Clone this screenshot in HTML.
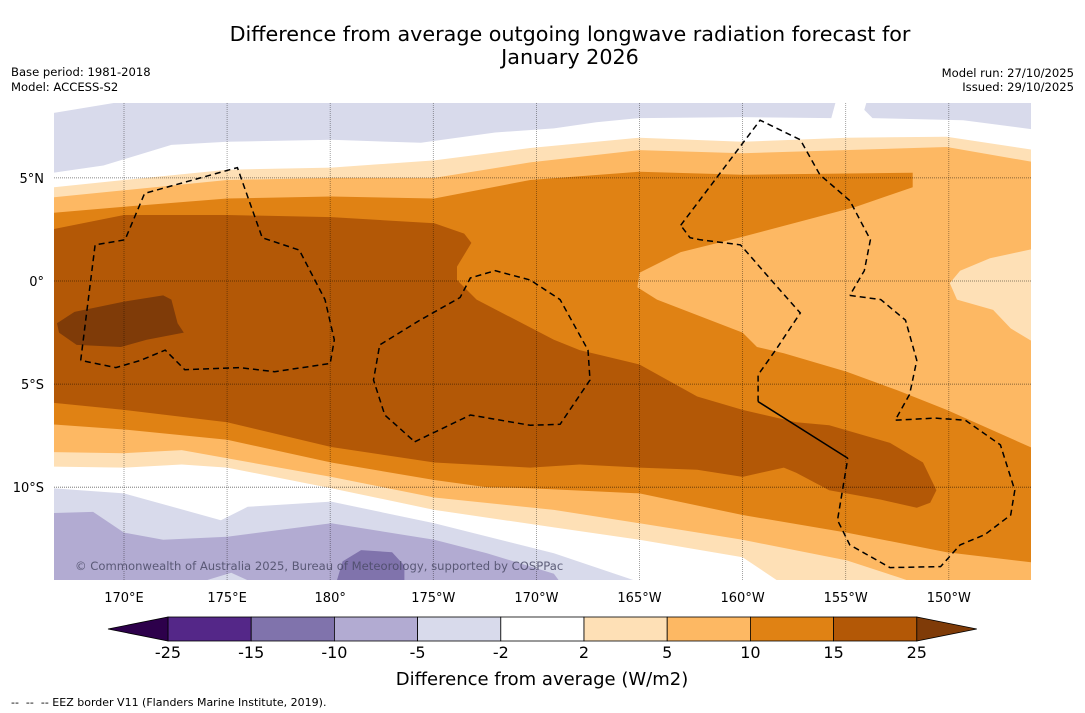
<!DOCTYPE html>
<html><head><meta charset="utf-8"><style>
html,body{margin:0;padding:0;background:#fff;width:1085px;height:713px;overflow:hidden}
svg{display:block;font-family:"DejaVu Sans","Liberation Sans",sans-serif}
</style></head><body>
<svg id="chart" width="1085" height="713" viewBox="0 0 1085 713" xmlns="http://www.w3.org/2000/svg">
<text x="570" y="41" text-anchor="middle" font-size="20.7" fill="#000">Difference from average outgoing longwave radiation forecast for</text>
<text x="570" y="64" text-anchor="middle" font-size="20.7" fill="#000">January 2026</text>
<text x="11" y="76" font-size="11.6">Base period: 1981-2018</text>
<text x="11" y="91" font-size="11.6">Model: ACCESS-S2</text>
<text x="1074" y="77" font-size="11.6" text-anchor="end">Model run: 27/10/2025</text>
<text x="1074" y="91" font-size="11.6" text-anchor="end">Issued: 29/10/2025</text>
<defs><clipPath id="mapclip"><rect x="54" y="103" width="977" height="477"/></clipPath></defs>
<g id="map" clip-path="url(#mapclip)"></g>
<g id="ticks"></g>
<g id="cbar"></g>
<text x="542" y="685" text-anchor="middle" font-size="18">Difference from average (W/m2)</text>
<text x="11" y="706" font-size="11">--&#160;&#160;--&#160;&#160;-- EEZ border V11 (Flanders Marine Institute, 2019).</text>
</svg>
<script>
const NS="http://www.w3.org/2000/svg";
// axis ticks
const lonTicks=[170,175,180,185,190,195,200,205,210];
const lonLabels=["170°E","175°E","180°","175°W","170°W","165°W","160°W","155°W","150°W"];
const latTicks=[5,0,-5,-10];
const latLabels=["5°N","0°","5°S","10°S"];
// colour scale
const levels=[-25,-15,-10,-5,-2,2,5,10,15,25];
const levelColors=["#542788","#8073ac","#b2abd2","#d8daeb","#ffffff","#fee0b6","#fdb863","#e08214","#b35806"];
const underColor="#2d004b", overColor="#7f3b08";
// filled contour regions [lon(E), lat]
const regTopLav=[[166.6,8.15],[169.5,8.63],[204.5,8.63],[204.3,7.9],[200,7.95],[195,7.9],[192.9,7.7],[190.85,7.4],[188,7.2],[184.4,6.7],[180.05,6.85],[175,6.75],[172.3,6.6],[169,5.6],[166.6,5.25]];
const regTopLavR=[[206.0,8.63],[214.5,8.63],[214.5,7.3],[210.7,7.8],[206.3,7.9],[205.9,8.3]];
const reg2=[[166.6,4.55],[170,4.9],[175,5.4],[180.05,5.5],[185.05,5.85],[189.7,6.45],[195,6.95],[200,6.75],[205.05,6.95],[209.9,7.0],[214.5,6.3],[214.5,-14.6],[201.8,-14.6],[200,-13.4],[195,-12.55],[190.85,-11.95],[185.05,-11.1],[180.05,-10.05],[175,-9.05],[172.8,-8.9],[170,-9.05],[166.5,-9.0]];
const reg5=[[166.5,4.05],[170,4.4],[175,4.9],[180.05,5.0],[185.05,5.0],[189.7,5.75],[195,6.35],[200,6.2],[209.9,6.5],[214.5,5.7],[214.5,-14.6],[208.25,-14.6],[207.5,-14.35],[205.05,-13.55],[200,-12.55],[195,-11.75],[190.85,-11.1],[185.05,-10.5],[180.05,-9.5],[175,-8.6],[172.8,-8.2],[170,-8.35],[166.5,-8.3]];
const reg10=[[166.5,3.3],[170,3.6],[175,4.0],[180.05,4.1],[185.05,4.0],[189.7,4.9],[195,5.3],[200,5.15],[208.25,5.25],[208.25,4.55],[205.5,3.6],[200,2.15],[197,1.4],[195,0.4],[194.9,-0.3],[195.85,-0.9],[200,-2.5],[200.7,-3.2],[202,-3.5],[205.05,-4.4],[207.5,-5.3],[209.9,-6.25],[214.5,-8.3],[214.5,-13.7],[209.9,-13.15],[205.05,-12.2],[200,-11.35],[195,-10.3],[189.7,-10.05],[187.6,-10.0],[185.05,-9.65],[180.05,-8.8],[175,-7.7],[170,-7.2],[166.5,-6.95]];
const regBlob=[[214.5,1.65],[212,1.1],[210.55,0.5],[210.05,-0.1],[210.4,-0.9],[212.15,-1.4],[213,-2.3],[214.5,-3.2]];
const reg15=[[166.5,2.5],[170,3.2],[175,3.2],[180.05,3.1],[185.05,2.8],[186.5,2.3],[186.85,1.85],[186.15,0.7],[186.15,0.05],[187.1,-0.9],[190.85,-2.85],[192.1,-3.35],[195,-4.05],[197.8,-5.6],[200,-6.25],[202.6,-6.85],[204.2,-7.0],[207.15,-7.85],[208.75,-8.8],[209.4,-10.15],[209.1,-10.75],[208.45,-11.0],[206.7,-10.6],[204.2,-10.15],[202.6,-9.3],[202,-9.05],[200,-9.5],[197.8,-9.15],[195,-9.05],[192.1,-8.9],[189.7,-9.05],[185.05,-8.8],[180.05,-8.05],[175,-6.85],[170,-6.25],[166.5,-5.9]];
const reg25=[[166.75,-2.05],[167.6,-1.5],[170,-1.0],[171.9,-0.7],[172.3,-0.9],[172.6,-2.05],[172.9,-2.5],[171.1,-2.85],[169.85,-3.2],[167.7,-3.1],[166.85,-2.5]];
const regLav5=[[166.5,-10.05],[170,-10.3],[174.7,-11.6],[176,-10.95],[180.05,-10.7],[185.05,-11.75],[190.85,-13.2],[195,-14.6],[166.5,-14.6]];
const regLav10=[[166.5,-11.25],[168.5,-11.2],[170,-12.2],[171.9,-12.55],[175,-12.4],[180.05,-11.75],[185.05,-12.55],[187.6,-13.2],[190.85,-14.2],[191.15,-14.6],[166.5,-14.6]];
const regLavPatch=[[173.7,-14.6],[175.2,-14.15],[176.2,-14.6]];
const regLav15=[[180.3,-14.6],[180.6,-13.6],[181.5,-13.05],[183,-13.15],[183.6,-13.8],[183.6,-14.6]];
// EEZ borders
const eezA=[[167.9,-3.85],[168.6,1.75],[170.05,2.0],[171.0,4.25],[173.7,5.0],[175.5,5.5],[176.7,2.1],[178.5,1.5],[179.75,-0.9],[180.2,-2.85],[180,-4.0],[177.3,-4.4],[175.6,-4.2],[172.95,-4.3],[172.0,-3.35],[170.8,-3.85],[169.6,-4.2],[167.9,-3.85]];
const eezB=[[184.1,-7.8],[186.8,-6.5],[189.7,-7.0],[191.15,-6.95],[192.6,-4.8],[192.5,-3.35],[191.15,-0.9],[189.7,0.05],[188,0.5],[186.8,0.15],[186.3,-0.8],[184.35,-1.9],[182.4,-3.1],[182.1,-4.8],[182.65,-6.5],[184.1,-7.8]];
const eezC=[[197,2.7],[200.85,7.8],[202.8,6.85],[203.75,5.15],[205.2,3.9],[206.2,2.0],[205.9,0.5],[205.2,-0.7]];
const eezD=[[205.2,-0.7],[206.7,-0.9],[207.9,-1.9],[208.45,-3.85],[208.1,-5.5],[207.4,-6.75],[209.3,-6.65],[210.8,-6.75],[212.5,-7.95],[213.2,-10.15],[213,-11.35],[211.75,-12.3],[210.55,-12.8],[209.6,-13.85],[207.15,-13.9],[205.2,-12.8],[204.6,-11.6],[205.1,-8.6]];
const eezSolid=[[205.1,-8.6],[200.75,-5.85]];
const eezE=[[200.75,-5.85],[200.75,-4.55],[201.6,-3.35],[202.8,-1.55],[201.6,-0.2],[199.9,1.75],[197.95,2.0],[197.45,2.1],[197,2.7]];

const X=lon=>124+(lon-170)*20.62;
const Y=lat=>281-lat*20.62;
const map=document.getElementById('map');
function poly(pts,fill,name){
  const p=document.createElementNS(NS,'polygon');
  p.setAttribute('points',pts.map(d=>X(d[0]).toFixed(1)+','+Y(d[1]).toFixed(1)).join(' '));
  p.setAttribute('fill',fill);
  
  
  map.appendChild(p);
}
const bg=document.createElementNS(NS,'rect');
bg.setAttribute('x',54);bg.setAttribute('y',103);bg.setAttribute('width',977);bg.setAttribute('height',477);bg.setAttribute('fill','#fff');


map.appendChild(bg);
poly(regTopLav,levelColors[3],'contour-minus5-top');
poly(regTopLavR,levelColors[3],'contour-minus5-top-right');
poly(reg2,levelColors[5],'contour-2-5');
poly(reg5,levelColors[6],'contour-5-10');
poly(reg10,levelColors[7],'contour-10-15');
poly(regBlob,levelColors[5],'contour-2-5-east');
poly(reg15,levelColors[8],'contour-15-25');
poly(reg25,overColor,'contour-above-25');
poly(regLav5,levelColors[3],'contour-minus5-south');
poly(regLav10,levelColors[2],'contour-minus10-south');
poly(regLavPatch,levelColors[3],'contour-minus5-patch');
poly(regLav15,levelColors[1],'contour-minus15-south');
// grid
lonTicks.forEach((lon,i)=>{
  const l=document.createElementNS(NS,'line');
  l.setAttribute('x1',X(lon));l.setAttribute('x2',X(lon));l.setAttribute('y1',103);l.setAttribute('y2',580);
  l.setAttribute('stroke','#000');l.setAttribute('stroke-opacity','0.45');l.setAttribute('stroke-width','0.8');l.setAttribute('stroke-dasharray','1,1');
  
  
  map.appendChild(l);
  const t=document.createElementNS(NS,'text');
  t.setAttribute('x',X(lon));t.setAttribute('y',602);t.setAttribute('text-anchor','middle');t.setAttribute('font-size','13');
  t.textContent=lonLabels[i];
  
  
  document.getElementById('ticks').appendChild(t);
});
latTicks.forEach((lat,i)=>{
  const l=document.createElementNS(NS,'line');
  l.setAttribute('x1',54);l.setAttribute('x2',1031);l.setAttribute('y1',Y(lat));l.setAttribute('y2',Y(lat));
  l.setAttribute('stroke','#000');l.setAttribute('stroke-opacity','0.6');l.setAttribute('stroke-width','0.8');l.setAttribute('stroke-dasharray','1,1');
  
  
  map.appendChild(l);
  const t=document.createElementNS(NS,'text');
  t.setAttribute('x',44);t.setAttribute('y',Y(lat)+5);t.setAttribute('text-anchor','end');t.setAttribute('font-size','13');
  t.textContent=latLabels[i];
  
  
  document.getElementById('ticks').appendChild(t);
});
function line(pts,dash,name){
  const p=document.createElementNS(NS,'polyline');
  p.setAttribute('points',pts.map(d=>X(d[0]).toFixed(1)+','+Y(d[1]).toFixed(1)).join(' '));
  p.setAttribute('fill','none');p.setAttribute('stroke','#000');p.setAttribute('stroke-width','1.5');
  if(dash)p.setAttribute('stroke-dasharray','6,4');
  
  
  map.appendChild(p);
}
line(eezA,true,'eez-border-a');line(eezB,true,'eez-border-b');line(eezC,true,'eez-border-c');
line(eezD,true,'eez-border-d');line(eezSolid,false,'eez-border-solid');line(eezE,true,'eez-border-e');
const cr=document.createElementNS(NS,'text');
cr.setAttribute('x',75);cr.setAttribute('y',570);cr.setAttribute('font-size','11.6');cr.setAttribute('fill','#4a4a66');cr.setAttribute('fill-opacity','0.85');
cr.textContent='© Commonwealth of Australia 2025, Bureau of Meteorology, supported by COSPPac';


map.appendChild(cr);
// colorbar
const cb=document.getElementById('cbar');
const cbX0=168,cbW=83.2,cbY=617,cbH=24;
const cx=i=>cbX0+i*cbW;
levelColors.forEach((c,i)=>{
  const r=document.createElementNS(NS,'rect');
  r.setAttribute('x',cx(i));r.setAttribute('y',cbY);r.setAttribute('width',cbW);r.setAttribute('height',cbH);
  r.setAttribute('fill',c);r.setAttribute('stroke','#000');r.setAttribute('stroke-width','0.8');
  
  
  cb.appendChild(r);
});
const tl=document.createElementNS(NS,'polygon');
tl.setAttribute('points',`${cbX0-60},${cbY+cbH/2} ${cbX0},${cbY} ${cbX0},${cbY+cbH}`);
tl.setAttribute('fill',underColor);tl.setAttribute('stroke','#000');tl.setAttribute('stroke-width','0.8');


cb.appendChild(tl);
const xe=cx(levelColors.length);
const tr=document.createElementNS(NS,'polygon');
tr.setAttribute('points',`${xe+60},${cbY+cbH/2} ${xe},${cbY} ${xe},${cbY+cbH}`);
tr.setAttribute('fill',overColor);tr.setAttribute('stroke','#000');tr.setAttribute('stroke-width','0.8');


cb.appendChild(tr);
levels.forEach((v,i)=>{
  const t=document.createElementNS(NS,'text');
  t.setAttribute('x',cx(i));t.setAttribute('y',658);t.setAttribute('text-anchor','middle');t.setAttribute('font-size','16');
  t.textContent=v;
  
  
  cb.appendChild(t);
});
</script>
</body></html>
